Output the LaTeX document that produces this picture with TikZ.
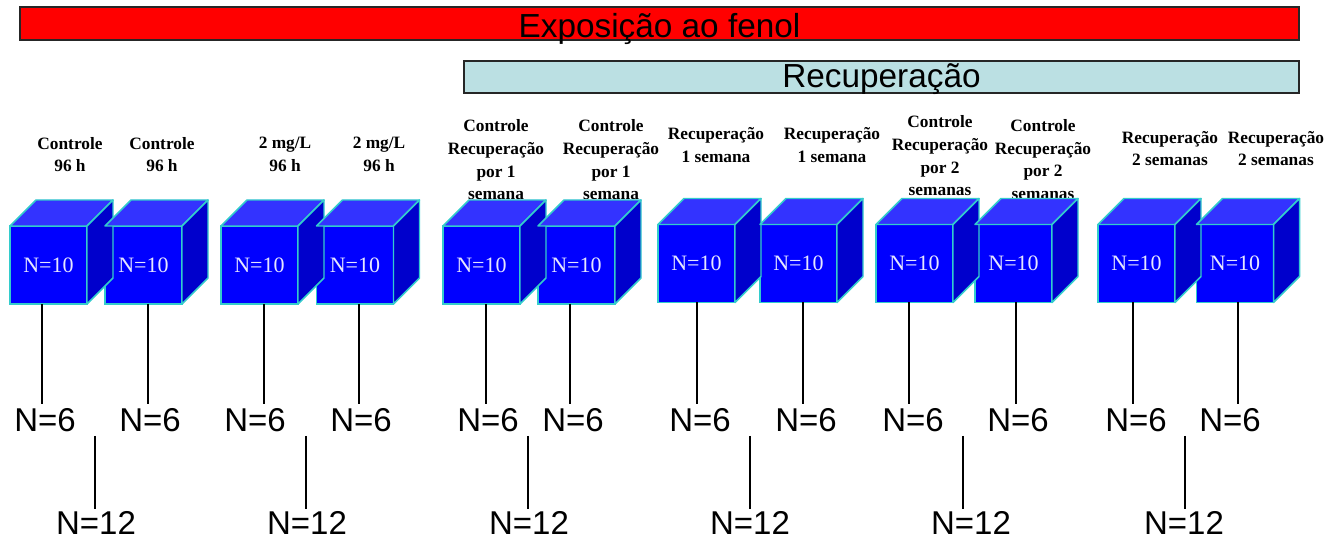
\documentclass[tikz,border=0pt]{standalone}
\usepackage{fontspec}
\setmainfont{Liberation Serif}
\newfontfamily\arialf{Liberation Sans}
\definecolor{exred}{RGB}{255,0,0}
\definecolor{recblue}{RGB}{187,224,227}
\definecolor{cubefront}{RGB}{0,0,255}
\definecolor{cubetop}{RGB}{51,51,255}
\definecolor{cubeside}{RGB}{0,0,204}
\definecolor{cubeedge}{RGB}{51,204,204}
\definecolor{ntxt}{RGB}{230,230,255}
\tikzset{
  bar/.style={draw=black!85, line width=1.3pt, inner sep=0, outer sep=0},
  bartext/.style={font=\arialf\fontsize{25}{28}\selectfont, inner sep=0, anchor=base},
  front/.style={draw=cubeedge, line width=1.1pt, fill=cubefront, minimum width=57.75pt,
    minimum height=58.5pt, inner sep=0, outer sep=0, text=ntxt,
    font=\fontsize{16.5}{18}\selectfont},
  cubeface/.style={draw=cubeedge, line width=1.1pt, line join=round},
  lbl/.style={font=\bfseries\fontsize{13}{17}\selectfont, align=center, inner sep=0},
  nsix/.style={font=\arialf\fontsize{24.75}{28}\selectfont, inner sep=3pt},
  ntw/.style={font=\arialf\fontsize{24.75}{28}\selectfont, inner sep=1.5pt},
  link/.style={draw=black, line width=1pt},
}
\newcommand\cubefaces[1]{%
  \draw[cubeface, fill=cubetop] (#1.north west) -- ++(26,-26) -- ++(77,0) -- (#1.north east) -- cycle;
  \draw[cubeface, fill=cubeside] (#1.north east) -- ++(26,-26) -- ++(0,78) -- (#1.south east) -- cycle;}
\begin{document}
\begin{tikzpicture}[x=0.75pt, y=-0.75pt]
\useasboundingbox (0,0) rectangle (1338,541);
% bars
\node[bar, fill=exred, minimum width=959.25pt, minimum height=24.75pt] (expo) at (659.5,23.5) {};
\node[bartext] (expot) at (659.5,38) {Exposição ao fenol};
\node[bar, fill=recblue, minimum width=626.25pt, minimum height=24pt] (recup) at (881.5,77) {};
\node[bartext] (recupt) at (881.5,88) {Recuperação};
% labels
\node[lbl] (l1) at (70,154.5) {Controle\\96 h};
\node[lbl] (l2) at (162,154.5) {Controle\\96 h};
\node[lbl] (l3) at (285,154.5) {2 mg/L\\96 h};
\node[lbl] (l4) at (379,154.5) {2 mg/L\\96 h};
\node[lbl] (l5) at (496,160) {Controle\\Recuperação\\por 1\\semana};
\node[lbl] (l6) at (611,160) {Controle\\Recuperação\\por 1\\semana};
\node[lbl] (l7) at (716,145) {Recuperação\\1 semana};
\node[lbl] (l8) at (832,145) {Recuperação\\1 semana};
\node[lbl] (l9) at (940,156) {Controle\\Recuperação\\por 2\\semanas};
\node[lbl] (l10) at (1043,159.5) {Controle\\Recuperação\\por 2\\semanas};
\node[lbl] (l11) at (1170,148.5) {Recuperação\\2 semanas};
\node[lbl] (l12) at (1276,148.5) {Recuperação\\2 semanas};
% cubes
\node[front] (c1) at (48.5,265) {N=10};
\node[front] (c2) at (143.5,265) {N=10};
\node[front] (c3) at (259.5,265) {N=10};
\node[front] (c4) at (355,265) {N=10};
\node[front] (c5) at (481.5,265) {N=10};
\node[front] (c6) at (576.5,265) {N=10};
\node[front] (c7) at (696.5,263.5) {N=10};
\node[front] (c8) at (798.5,263.5) {N=10};
\node[front] (c9) at (914.5,263.5) {N=10};
\node[front] (c10) at (1013.5,263.5) {N=10};
\node[front] (c11) at (1136.5,263.5) {N=10};
\node[front] (c12) at (1235,263.5) {N=10};
\foreach \c in {c1,c2,c3,c4,c5,c6,c7,c8,c9,c10,c11,c12} {\cubefaces{\c}}
% N=6
\node[nsix] (a1) at (45,420) {N=6};
\node[nsix] (a2) at (150,420) {N=6};
\node[nsix] (a3) at (255,420) {N=6};
\node[nsix] (a4) at (361,420) {N=6};
\node[nsix] (a5) at (488,420) {N=6};
\node[nsix] (a6) at (573,420) {N=6};
\node[nsix] (a7) at (700,420) {N=6};
\node[nsix] (a8) at (806,420) {N=6};
\node[nsix] (a9) at (913,420) {N=6};
\node[nsix] (a10) at (1018,420) {N=6};
\node[nsix] (a11) at (1136,420) {N=6};
\node[nsix] (a12) at (1230,420) {N=6};
% N=12
\node[ntw] (b1) at (96,523) {N=12};
\node[ntw] (b2) at (307,523) {N=12};
\node[ntw] (b3) at (529,523) {N=12};
\node[ntw] (b4) at (750,523) {N=12};
\node[ntw] (b5) at (971,523) {N=12};
\node[ntw] (b6) at (1184,523) {N=12};
% line x positions
\foreach \i/\x in {1/42,2/148,3/264,4/359,5/486,6/570,7/697,8/803,9/909,10/1016,11/1133,12/1238}
  {\coordinate (t\i) at (\x,0);}
\foreach \i in {1,...,12}
  {\draw[link] (c\i.south -| t\i) -- (t\i |- a\i.north);}
\foreach \i/\x/\p in {1/95/1,2/306/3,3/528/5,4/750/7,5/963/9,6/1185/11}
  {\coordinate (m\i) at (\x,0);
   \draw[link] (m\i |- a\p.south) -- (m\i |- b\i.north);}
\end{tikzpicture}
\end{document}
